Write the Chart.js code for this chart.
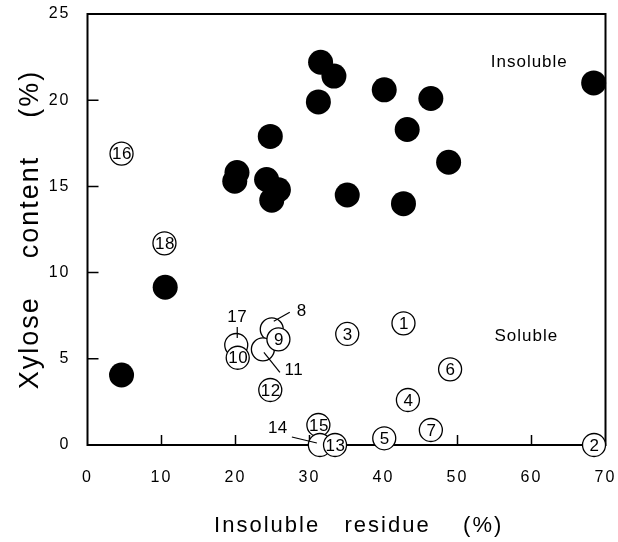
<!DOCTYPE html>
<html>
<head>
<meta charset="utf-8">
<script src="https://cdn.jsdelivr.net/npm/chart.js@4.4.1/dist/chart.umd.min.js"></script>
<style>
  html, body { margin: 0; padding: 0; background: #fff; }
  #wrap { width: 618px; height: 542px; }
</style>
</head>
<body>
<div id="wrap"><canvas id="chart" width="618" height="542"></canvas></div>
<script>
// Valeurs (résidu insoluble %, teneur en xylose %)
const insolubleX = [31.5, 33.3, 31.2, 40.1, 46.4, 68.4, 43.2, 24.7, 48.8, 20.2, 19.9, 24.2, 25.8, 24.9, 35.1, 42.7, 10.5, 4.6];
const insolubleY = [22.2, 21.4, 19.9, 20.6, 20.1, 21.0, 18.3, 17.9, 16.4, 15.8, 15.3, 15.4, 14.8, 14.2, 14.5, 14.0, 9.15, 4.06];

// Ordre de dessin choisi pour reproduire les recouvrements (10 sur 17, 9 sur 8/11, 13 sur 14/15)
const solubleIds = [16, 18, 1, 2, 3, 4, 5, 6, 7, 12, 17, 10, 8, 11, 9, 15, 14, 13];
const solubleX   = [4.6, 10.4, 42.7, 68.45, 35.1, 43.3, 40.1, 49.0, 46.4, 24.7, 20.1, 20.3, 24.9, 23.7, 25.8, 31.2, 31.4, 33.45];
const solubleY   = [16.9, 11.7, 7.06, 0, 6.44, 2.61, 0.39, 4.39, 0.87, 3.19, 5.8, 5.06, 6.71, 5.55, 6.13, 1.16, 0, 0];

const xTicks = [0, 10, 20, 30, 40, 50, 60, 70];
const yTicks = [0, 5, 10, 15, 20, 25];

const regionLabels = ['Insoluble', 'Soluble'];
const regionX = [59.7, 59.3];
const regionY = [22.2, 6.3];

// Étiquettes hors cercle avec trait de rappel (décalages en px)
const callouts = {
    8:  { label: [30, -18], line: [[2, -8], [18, -17]] },
    11: { label: [31, 21], line: [[1, 3], [17, 23]] },
    14: { label: [-42, -17], line: [[-28, -8], [-3, -2]] },
    17: { label: [1, -28], line: [[1, -18], [1, -7]] }
};

const FONT = '"Liberation Sans", Arial, sans-serif';

// pas de marge automatique autour des graduations
const noPad = (s) => { s.paddingTop = s.paddingBottom = s.paddingLeft = s.paddingRight = 0; };

const framePlugin = {
    id: 'frame',
    beforeDraw(chart) {
        chart.ctx.letterSpacing = '2px';
    },
    // cadre et graduations sous les points (les cercles les recouvrent)
    beforeDatasetsDraw(chart) {
        const { ctx, chartArea: a, scales } = chart;
        ctx.save();
        ctx.strokeStyle = '#000';
        ctx.lineWidth = 2;
        ctx.strokeRect(a.left, a.top, a.right - a.left, a.bottom - a.top);
        ctx.lineWidth = 1.5;
        ctx.beginPath();
        xTicks.slice(1, -1).forEach(v => {
            const px = scales.x.getPixelForValue(v);
            ctx.moveTo(px, a.bottom);
            ctx.lineTo(px, a.bottom - 10);
        });
        yTicks.slice(1, -1).forEach(v => {
            const py = scales.y.getPixelForValue(v);
            ctx.moveTo(a.left, py);
            ctx.lineTo(a.left + 11, py);
        });
        ctx.stroke();
        ctx.restore();
    },
    afterDatasetsDraw(chart) {
        const { ctx, scales } = chart;
        const meta = chart.getDatasetMeta(1);
        ctx.save();
        ctx.letterSpacing = '0.5px';
        ctx.fillStyle = '#000';
        ctx.strokeStyle = '#000';
        ctx.lineWidth = 1.2;
        ctx.font = '17px ' + FONT;
        ctx.textAlign = 'center';
        ctx.textBaseline = 'middle';
        meta.data.forEach((pt, i) => {
            const id = solubleIds[i];
            const c = callouts[id];
            if (c) {
                ctx.beginPath();
                ctx.moveTo(pt.x + c.line[0][0], pt.y + c.line[0][1]);
                ctx.lineTo(pt.x + c.line[1][0], pt.y + c.line[1][1]);
                ctx.stroke();
                ctx.fillText(String(id), pt.x + c.label[0], pt.y + c.label[1]);
            } else {
                ctx.fillText(String(id), pt.x + 0.5, pt.y + 1);
            }
        });
        ctx.letterSpacing = '1px';
        ctx.font = '17px ' + FONT;
        regionLabels.forEach((t, i) => {
            ctx.fillText(t, scales.x.getPixelForValue(regionX[i]), scales.y.getPixelForValue(regionY[i]));
        });
        ctx.restore();
    },
    afterDraw(chart) {
        chart.ctx.letterSpacing = '0px';
    }
};

new Chart(document.getElementById('chart'), {
    type: 'scatter',
    data: {
        datasets: [
            {
                label: 'Insoluble',
                data: insolubleX.map((x, i) => ({ x: x, y: insolubleY[i] })),
                backgroundColor: '#000',
                borderColor: '#000',
                pointRadius: 12.5,
                borderWidth: 0,
                clip: false
            },
            {
                label: 'Soluble',
                data: solubleX.map((x, i) => ({ x: x, y: solubleY[i] })),
                backgroundColor: '#fff',
                borderColor: '#000',
                pointRadius: 11.5,
                borderWidth: 1.3,
                clip: false
            }
        ]
    },
    options: {
        responsive: false,
        animation: false,
        devicePixelRatio: 1,
        events: [],
        layout: { autoPadding: false, padding: { top: 14, right: 12.5, left: 0, bottom: 0 } },
        plugins: {
            legend: { display: false },
            tooltip: { enabled: false }
        },
        scales: {
            x: {
                type: 'linear',
                min: 0,
                max: 70,
                afterBuildTicks: (s) => { s.ticks = xTicks.map(v => ({ value: v })); },
                afterFit: (s) => { s.height = 97; noPad(s); },
                grid: { display: false, drawTicks: false },
                border: { display: false },
                ticks: {
                    autoSkip: false,
                    maxRotation: 0,
                    padding: 23,
                    color: '#000',
                    font: { family: FONT, size: 16 }
                },
                title: {
                    display: true,
                    text: '   Insoluble   residue    (%)',
                    color: '#000',
                    font: { family: FONT, size: 22 },
                    padding: { top: 0, bottom: 3 }
                }
            },
            y: {
                type: 'linear',
                min: 0,
                max: 25,
                afterBuildTicks: (s) => { s.ticks = yTicks.map(v => ({ value: v })); },
                afterFit: (s) => { s.width = 87.5; noPad(s); },
                grid: { display: false, drawTicks: false },
                border: { display: false },
                ticks: {
                    padding: 17,
                    color: '#000',
                    font: { family: FONT, size: 16 }
                },
                title: {
                    display: true,
                    text: 'Xylose    content    (%)',
                    color: '#000',
                    font: { family: FONT, size: 27 },
                    padding: { top: 14, bottom: 0 }
                }
            }
        }
    },
    plugins: [framePlugin]
});
</script>
</body>
</html>
